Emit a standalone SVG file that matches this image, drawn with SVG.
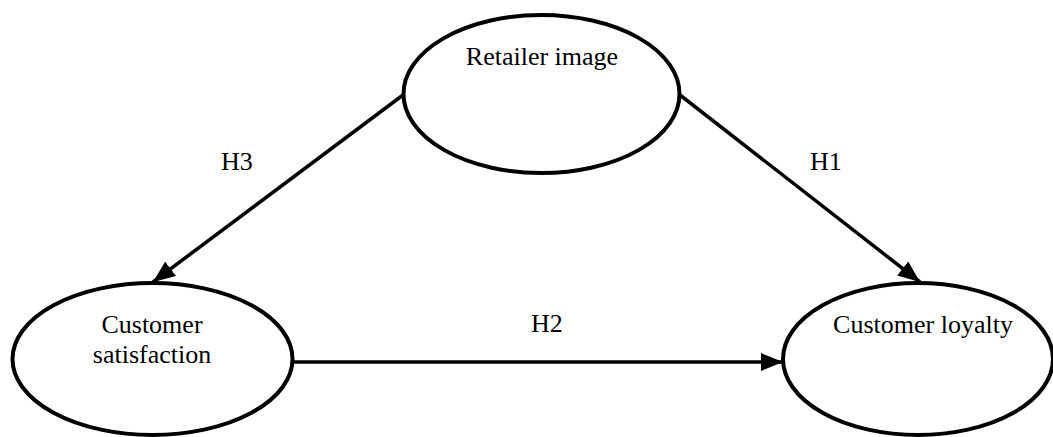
<svg xmlns="http://www.w3.org/2000/svg" width="1053" height="437" viewBox="0 0 1053 437">
  <style>
    .node { fill: #ffffff; stroke: #000000; stroke-width: 4; }
    .lbl { font-family: "Liberation Serif", "Times New Roman", serif; font-size: 26px; fill: #000000; }
    .edge { stroke: #000000; stroke-width: 3.5; fill: none; }
  </style>
  <defs>
    <marker id="arrow" markerUnits="userSpaceOnUse" markerWidth="24" markerHeight="18" refX="22" refY="9" orient="auto">
      <path d="M0,0 L22,9 L0,18 Z" fill="#000000"/>
    </marker>
  </defs>
  <rect width="1053" height="437" fill="#ffffff"/>
  <g id="connectors">
    <line class="edge" x1="403" y1="95" x2="153" y2="282" marker-end="url(#arrow)"/>
    <line class="edge" x1="680" y1="95" x2="920" y2="282" marker-end="url(#arrow)"/>
    <line class="edge" x1="293" y1="362" x2="783" y2="362" marker-end="url(#arrow)"/>
    <text class="lbl" x="221" y="170">H3</text>
    <text class="lbl" x="810" y="170">H1</text>
    <text class="lbl" x="531" y="332">H2</text>
  </g>
  <g id="retailer-image">
    <ellipse class="node" cx="541.5" cy="94" rx="138" ry="79"/>
    <text class="lbl" x="542" y="65" text-anchor="middle">Retailer image</text>
  </g>
  <g id="customer-satisfaction">
    <ellipse class="node" cx="152.5" cy="359" rx="140" ry="76"/>
    <text class="lbl" x="152" y="333" text-anchor="middle">Customer</text>
    <text class="lbl" x="152" y="363" text-anchor="middle">satisfaction</text>
  </g>
  <g id="customer-loyalty">
    <ellipse class="node" cx="918" cy="359" rx="135" ry="76"/>
    <text class="lbl" x="923" y="333" text-anchor="middle">Customer loyalty</text>
  </g>
</svg>
